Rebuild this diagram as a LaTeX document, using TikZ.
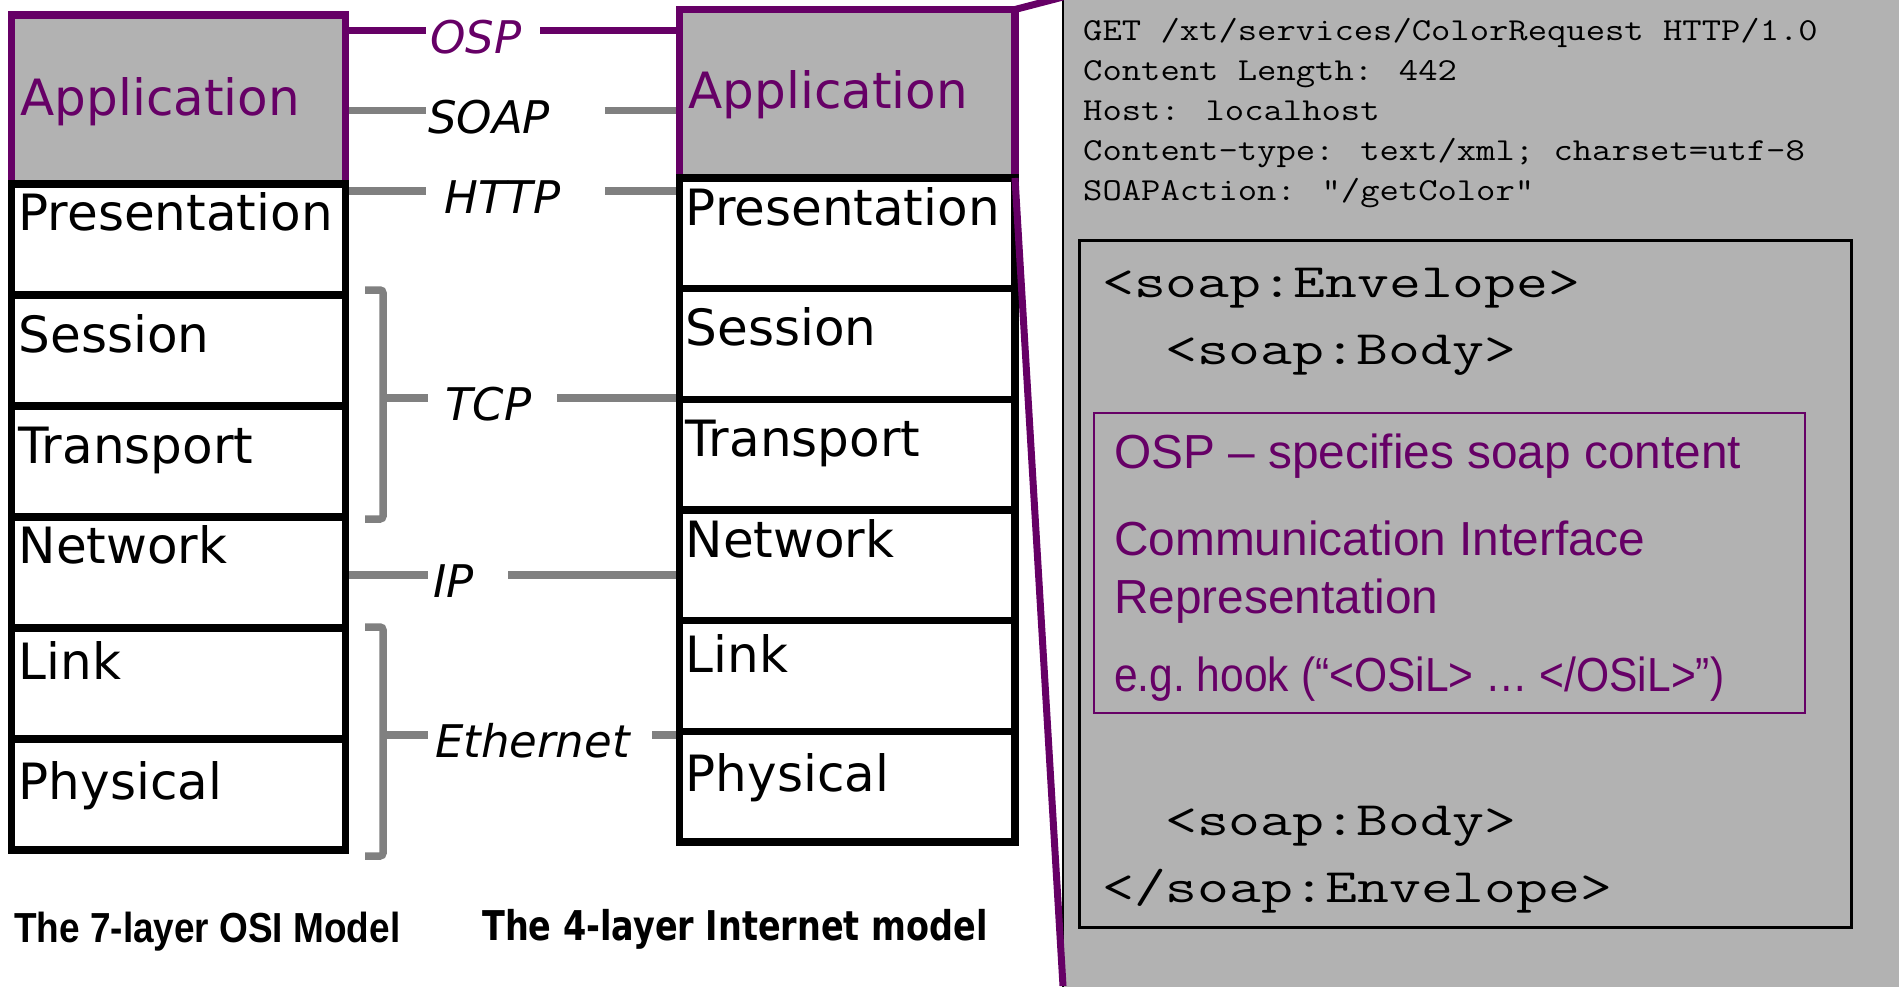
\documentclass[tikz,border=0pt]{standalone}
\usepackage{fontspec}
\usepackage{graphicx}
\usetikzlibrary{positioning,backgrounds}

\newfontfamily\layerfont[ItalicFont={DejaVu Sans Oblique},BoldFont={DejaVu Sans Bold}]{DejaVu Sans}
\newfontfamily\capfont{Liberation Sans}
\newcommand{\stretchx}[2]{\scalebox{#1}[1]{#2}}

\definecolor{osppurple}{HTML}{660066}
\definecolor{boxgrey}{HTML}{B2B2B2}
\definecolor{linegrey}{HTML}{808080}

\begin{document}
\begin{tikzpicture}[
    x=1pt, y=-1pt,
    layer/.style={
        rectangle,
        draw=black,
        line width=7.5pt,
        inner sep=0pt,
        outer sep=0pt,
        anchor=north west
    },
    appbox/.style={layer, draw=osppurple, fill=boxgrey},
    layertext/.style={font=\layerfont\fontsize{50}{60}\selectfont, anchor=base west, inner sep=0pt},
    proto/.style={font=\layerfont\itshape\fontsize{45}{54}\selectfont, anchor=base west, inner sep=0pt},
    wire/.style={draw=linegrey, line width=7.5pt},
    ospwire/.style={draw=osppurple, line width=7.5pt},
    bracket/.style={wire, rounded corners=3pt},
    zoomline/.style={draw=osppurple, line width=7pt},
    httpline/.style={font=\ttfamily\fontsize{32}{40}\selectfont, anchor=base west, inner sep=0pt},
    soapline/.style={font=\ttfamily\fontsize{48}{56}\selectfont, anchor=base west, inner sep=0pt},
    note/.style={font=\capfont\fontsize{47.8}{56}\selectfont, text=osppurple, anchor=base west, inner sep=0pt},
    caption/.style={anchor=base west, inner sep=0pt}
]

\useasboundingbox (0,0) rectangle (1899,986);

% zoomed-in application panel
\fill[boxgrey] (1063,-10) rectangle (1910,996);
\draw[line width=2pt] (1063,-10) -- (1063,996);
\coordinate (zoomTL) at (1063,-3);
\coordinate (zoomBL) at (1063,986);

\node[draw, line width=2.5pt, minimum width=772pt, minimum height=687pt, inner sep=0pt, anchor=north west] (envelope) at (1078,239) {};
\node[draw=osppurple, line width=2pt, minimum width=711pt, minimum height=300pt, inner sep=0pt, anchor=north west] (ospnote) at (1093,412) {};

\foreach \ln [count=\i from 0] in {GET /xt/services/ColorRequest HTTP/1.0, Content Length: 442, Host: localhost, Content-type: text/xml; charset=utf-8, SOAPAction: "/getColor"}
    \node[httpline] (hdr\i) at (1083,{40+40*\i}) {\stretchx{1.173}{\ln}};

\node[soapline] (envopen) at (1102,297) {\stretchx{1.29}{<soap:Envelope>}};
\node[soapline] (bodyopen) at (1165,364) {\stretchx{1.29}{<soap:Body>}};
\node[soapline] (bodyclose) at (1165,835) {\stretchx{1.29}{<soap:Body>}};
\node[soapline] (envclose) at (1102,902) {\stretchx{1.29}{</soap:Envelope>}};

\node[note] (note1) at (1114,468) {OSP – specifies soap content};
\node[note] (note2) at (1114,555) {Communication Interface};
\node[note] (note3) at (1114,613) {Representation};
\node[note] (note4) at (1114,691) {\stretchx{0.89}{e.g.\ hook (“<OSiL> … </OSiL>”)}};

% OSI stack (left)
\node[appbox, minimum width=334pt, minimum height=169pt] (Lapp) at (11.5,15) {};
\node[layertext, text=osppurple] (Lappt) at ([shift={(9,100)}]Lapp.north west) {Application};
\foreach \nm/\txt/\dy [count=\i from 0] in {pres/Presentation/46, sess/Session/57, trans/Transport/57, net/Network/46, link/Link/51, phys/Physical/60} {
    \node[layer, minimum width=334pt, minimum height=111pt] (L\nm) at (11.5,{184+111*\i}) {};
    \node[layertext] (L\nm t) at ([shift={(7,\dy)}]L\nm.north west) {\txt};
}

% Internet stack (right)
\node[appbox, minimum width=335.5pt, minimum height=168.5pt] (Rapp) at (679.5,9.5) {};
\node[layertext, text=osppurple] (Rappt) at ([shift={(9,98.5)}]Rapp.north west) {Application};
\foreach \nm/\txt/\dy [count=\i from 0] in {pres/Presentation/47, sess/Session/57, trans/Transport/57, net/Network/47, link/Link/52, phys/Physical/60} {
    \node[layer, minimum width=335.5pt, minimum height=110.67pt] (R\nm) at (679.5,{178+110.67*\i}) {};
    \node[layertext] (R\nm t) at ([shift={(6,\dy)}]R\nm.north west) {\txt};
}

% protocol links
\coordinate (ospA) at (426,30.5);  \coordinate (ospB) at (540,30.5);
\coordinate (soapA) at (426,110.5); \coordinate (soapB) at (605,110.5);
\coordinate (httpA) at (426,191);  \coordinate (httpB) at (605,191);
\coordinate (tcpTop) at (383,290); \coordinate (tcpBot) at (383,519);
\coordinate (tcpA) at (428,398);   \coordinate (tcpB) at (557,398);
\coordinate (ipA) at (428,575);    \coordinate (ipB) at (508,575);
\coordinate (ethTop) at (383,627); \coordinate (ethBot) at (383,856);
\coordinate (ethA) at (428,735);   \coordinate (ethB) at (652,735);

\begin{scope}[on background layer]
    \draw[ospwire] (Lapp.east |- ospA) -- (ospA);
    \draw[ospwire] (ospB) -- (Rapp.west |- ospB);
    \draw[wire] (Lapp.east |- soapA) -- (soapA);
    \draw[wire] (soapB) -- (Rapp.west |- soapB);
    \draw[wire] (Lpres.east |- httpA) -- (httpA);
    \draw[wire] (httpB) -- (Rpres.west |- httpB);
    \draw[wire] (tcpB) -- (Rsess.west |- tcpB);
    \draw[wire] (Lnet.east |- ipA) -- (ipA);
    \draw[wire] (ipB) -- (Rnet.west |- ipB);
    \draw[wire] (ethB) -- (Rlink.west |- ethB);
\end{scope}

\draw[bracket] ([xshift=-18pt]tcpTop) -- (tcpTop) -- (tcpBot) -- ([xshift=-18pt]tcpBot);
\draw[wire] (tcpTop |- tcpA) -- (tcpA);
\draw[bracket] ([xshift=-18pt]ethTop) -- (ethTop) -- (ethBot) -- ([xshift=-18pt]ethBot);
\draw[wire] (ethTop |- ethA) -- (ethA);

\node[proto, text=osppurple] (osp) at (430,53) {OSP};
\node[proto] (soap) at (428,133) {SOAP};
\node[proto] (http) at (444,213.5) {HTTP};
\node[proto] (tcp) at (445,420.5) {TCP};
\node[proto] (ip) at (433,597.5) {IP};
\node[proto] (eth) at (435,757.5) {Ethernet};

% zoom callout
\draw[zoomline] (Rapp.north east) -- (zoomTL);
\draw[zoomline] (Rapp.south east) -- (zoomBL);

\node[caption, font=\capfont\bfseries\fontsize{42}{50}\selectfont] (osicap) at (14,942) {\stretchx{0.88}{The 7-layer OSI Model}};
\node[caption, font=\layerfont\bfseries\fontsize{41}{50}\selectfont] (inetcap) at (482,940) {\stretchx{0.816}{The 4-layer Internet model}};

\end{tikzpicture}
\end{document}
